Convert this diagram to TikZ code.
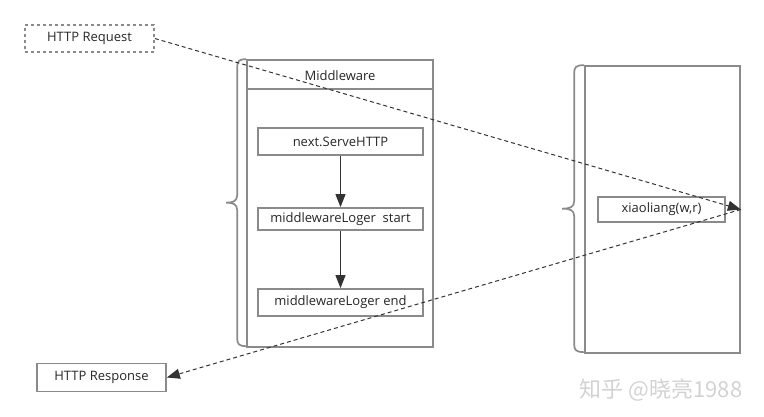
\documentclass[tikz,border=0pt]{standalone}
\usepackage{fontspec}
\setmainfont{Open Sans}
\newfontfamily\cjkfont{Noto Sans CJK SC}
\usetikzlibrary{arrows.meta,positioning}
\definecolor{boxgray}{HTML}{8A8A8A}
\definecolor{linegray}{HTML}{333333}

\begin{document}
\begin{tikzpicture}[x=1pt,y=-1pt,>={Triangle[length=13pt,width=10pt]},
  font=\fontsize{13}{15}\selectfont,text=black!85,
  box/.style={draw=boxgray,line width=1.7pt,minimum height=27pt,minimum width=165pt,inner sep=0pt},
  panel/.style={draw=boxgray,line width=1.7pt,minimum height=287pt,inner sep=0pt},
  brace/.style={draw=boxgray,line width=1.7pt},
  flow/.style={draw=linegray,line width=1pt,dash pattern=on 4pt off 3pt}]
\useasboundingbox (0,0) rectangle (764,417);
% middleware panel
\node[panel,minimum width=186pt] (mw) at (340,203.5) {};
\draw[brace] ([yshift=-30pt]mw.north west) -- ([yshift=-30pt]mw.north east);
\node (mwtitle) at ([yshift=-16pt]mw.north) {Middleware};
\draw[brace] (mw.north west) .. controls +(-7,0) and +(0,-6) .. ++(-9,8) -- ++(0,128)
  .. controls +(0,6) and +(7,0) .. ++(-11,7.5) .. controls +(7,0) and +(0,-6) .. ++(11,7.5)
  -- ++(0,128) .. controls +(0,6) and +(-7,0) .. ++(9,8);
\node[box] (next) at (340.5,141.5) {next.ServeHTTP};
\node[box,minimum height=22pt] (logstart) at (340.5,219) {middlewareLoger~~start};
\node[box] (logend) at (340.5,302.5) {middlewareLoger end};
\draw[->,draw=linegray,line width=1pt] (next) -- (logstart);
\draw[->,draw=linegray,line width=1pt] (logstart) -- (logend);
% handler panel
\node[panel,minimum width=155pt] (app) at (662.5,209.5) {};
\draw[brace] (app.north west) .. controls +(-8,0) and +(0,-6) .. ++(-10,8) -- ++(0,128)
  .. controls +(0,6) and +(8,0) .. ++(-12,7.5) .. controls +(8,0) and +(0,-6) .. ++(12,7.5)
  -- ++(0,128) .. controls +(0,6) and +(-8,0) .. ++(10,8);
\node[box,minimum width=127pt,minimum height=25pt] (xl) at (661.5,209.5) {xiaoliang(w,r)};
% request / response
\node[box,dash pattern=on 3pt off 3pt,minimum width=129pt] (req) at (89.5,38.5) {HTTP Request};
\node[box,minimum width=129pt,minimum height=28pt] (resp) at (101.5,377.5) {HTTP Response};
\draw[flow,->] (req.east) -- (app.east);
\draw[flow,->] (app.east) -- (resp.east);
\node[font=\cjkfont\fontsize{22}{26}\selectfont,text=gray!35] (wm) at (661,390) {知乎 @晓亮1988};
\end{tikzpicture}
\end{document}
